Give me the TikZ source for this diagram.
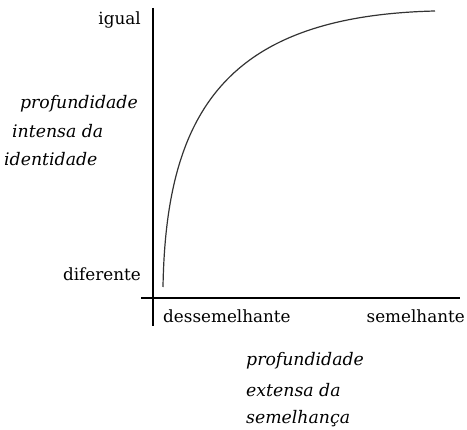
\documentclass[tikz,border=0pt]{standalone}
\usepackage{fontspec}
\setmainfont{DejaVu Serif}
\begin{document}
\begin{tikzpicture}[x=1pt,y=-1pt,
  lbl/.style={inner sep=0pt,font=\fontsize{16.8}{19}\selectfont},
  ilbl/.style={inner sep=0pt,font=\fontsize{17.3}{19}\selectfont\itshape},
  axis/.style={line width=1.2pt,black},
  curve/.style={line width=1.2pt,black!80}]
\useasboundingbox (0,0) rectangle (467,430);
\coordinate (ytop) at (153,8);
\coordinate (ybot) at (153,326);
\coordinate (xleft) at (141,298);
\coordinate (xright) at (460,298);
\coordinate (cs) at (163,287);
\coordinate (ce) at (435,11);
\draw[axis] (ytop) -- (ybot);
\draw[axis] (xleft) -- (xright);
\draw[curve] (cs) .. controls (166,112) and (226,16) .. (ce);
\node[lbl,anchor=east] (igual) at (141,20) {igual};
\node[lbl,anchor=east] (dif) at (141,274) {diferente};
\node[lbl,anchor=west] (dess) at (163,316) {dessemelhante};
\node[lbl,anchor=east] (sem) at (465,316) {semelhante};
\node[ilbl,anchor=east] (p1) at (138,104) {profundidade};
\node[ilbl,anchor=west] (p2) at (12,131) {intensa da};
\node[ilbl,anchor=west] (p3) at (4,159) {identidade};
\node[ilbl,anchor=west] (q1) at (246,361) {profundidade};
\node[ilbl,anchor=west] (q2) at (246,390) {extensa da};
\node[ilbl,anchor=west] (q3) at (246,419) {semelhança};
\end{tikzpicture}
\end{document}
